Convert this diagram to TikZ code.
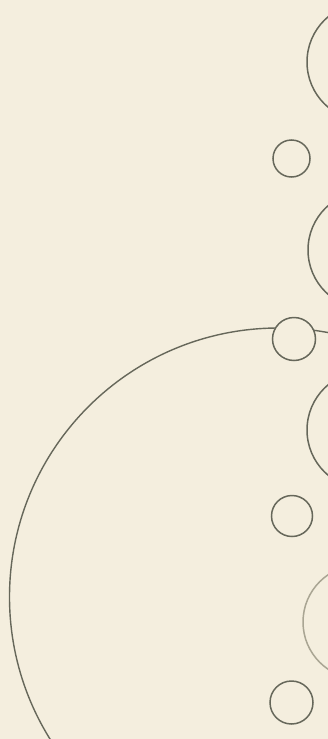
\documentclass[tikz,border=0pt]{standalone}
\usepackage{xcolor}
\usepackage{tikz}

\definecolor{paper}{HTML}{F4EEDE}
\definecolor{ink}{HTML}{66675A}
\definecolor{faded}{HTML}{A9A593}

\begin{document}
\begin{tikzpicture}[x=1pt, y=-1pt,
    bigring/.style={draw=ink, line width=1.5pt, circle, minimum size=118pt, inner sep=0pt},
    smallring/.style={draw=ink, line width=1.5pt, circle, minimum size=40pt, inner sep=0pt}]
      \fill[paper] (0,0) rectangle (328,739);
      \useasboundingbox (0,0) rectangle (328,739);
      \clip (0,0) rectangle (328,739);
      % large arc on the left
      \draw[ink, line width=1.4pt] (278.5,597) circle (269);
      % big rings, cut by the right edge
      \node[bigring] (ring1) at (366,62) {};
      \node[bigring] (ring2) at (367,250) {};
      \node[bigring] (ring3) at (366,430) {};
      \node[bigring, draw=faded, minimum size=114pt] (ring4) at (360,622) {};
      % small rings
      \node[smallring, minimum size=37pt] (dot1) at (291.5,158.5) {};
      \node[smallring, minimum size=43pt, fill=paper] (dot2) at (294,339) {};
      \node[smallring, minimum size=41pt] (dot3) at (292,516) {};
      \node[smallring, minimum size=43pt] (dot4) at (291.5,702.5) {};
    \end{tikzpicture}
\end{document}
